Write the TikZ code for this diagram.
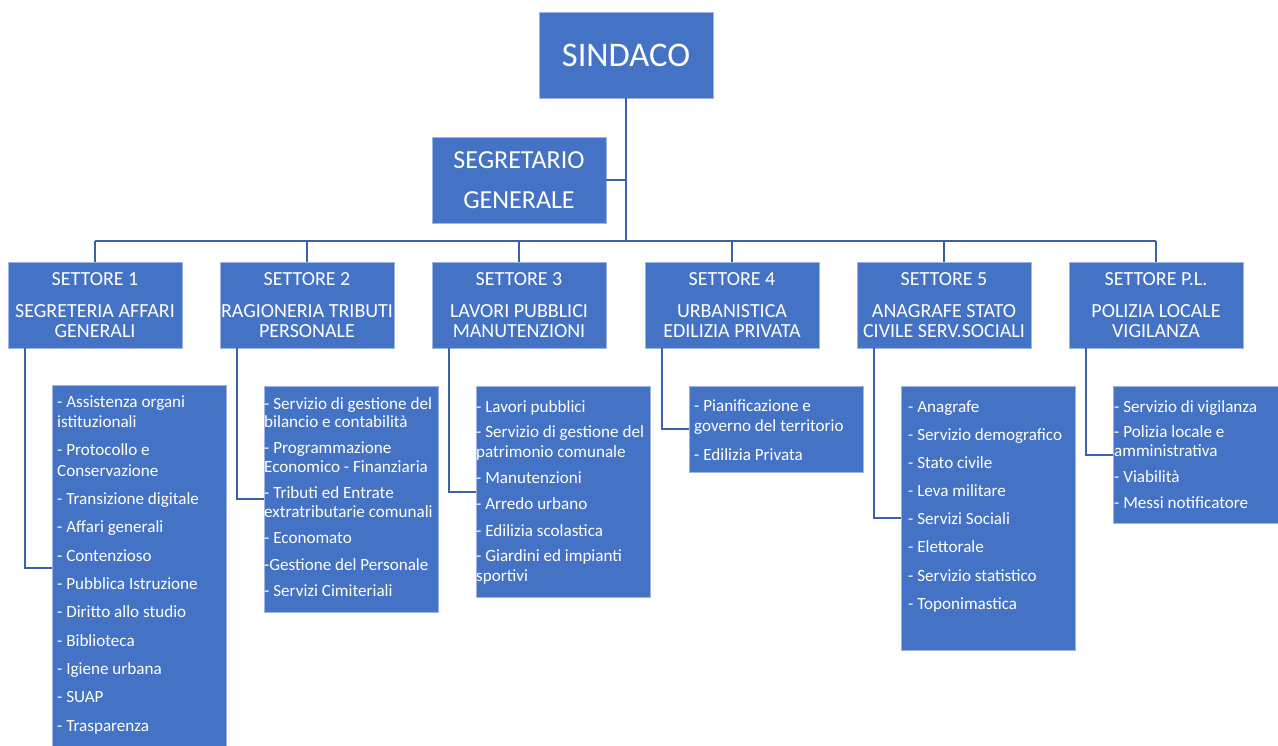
\documentclass[tikz,border=0pt]{standalone}
\usepackage{fontspec}
\setmainfont{Carlito}
\definecolor{boxblue}{HTML}{4472C4}
\definecolor{edgeblue}{HTML}{9DB5E0}
\definecolor{connblue}{HTML}{3A62AA}
\begin{document}
\begin{tikzpicture}[x=1pt,y=-1pt,
  box/.style={draw=edgeblue, line width=0.8pt, fill=boxblue, text=white, inner sep=0pt, align=center, minimum width=174pt},
  settore/.style={box, minimum height=86pt, font=\fontsize{20}{19.4}\selectfont},
  listbox/.style={draw=edgeblue, line width=0.8pt, fill=boxblue, inner sep=0pt, minimum width=174pt},
  conn/.style={draw=connblue, line width=2pt},
  ltxt/.style={anchor=base west, inner sep=0pt, text=white, font=\fontsize{17.1}{20}\selectfont}]
\useasboundingbox (0,0) rectangle (1278,745);
\clip (0,0) rectangle (1278,745);

% top
\node[box, minimum height=86pt, font=\fontsize{34.5}{40}\selectfont] (sindaco) at (626,55) {SINDACO};
\node[box, minimum height=86pt, font=\fontsize{26}{29}\selectfont] (segr) at (519,180) {SEGRETARIO\\[11.6pt]GENERALE};

% settori
\node[settore] (s1) at (95,305)   {SETTORE 1\\[12.6pt]SEGRETERIA AFFARI\\GENERALI};
\node[settore] (s2) at (307,305)  {SETTORE 2\\[12.6pt]RAGIONERIA TRIBUTI\\PERSONALE};
\node[settore] (s3) at (519,305)  {SETTORE 3\\[12.6pt]LAVORI PUBBLICI\\MANUTENZIONI};
\node[settore] (s4) at (732,305)  {SETTORE 4\\[12.6pt]URBANISTICA\\EDILIZIA PRIVATA};
\node[settore] (s5) at (944,305)  {SETTORE 5\\[12.6pt]ANAGRAFE STATO\\CIVILE SERV.SOCIALI};
\node[settore] (s6) at (1156,305) {SETTORE P.L.\\[12.6pt]POLIZIA LOCALE\\VIGILANZA};

% list boxes
\node[listbox, minimum height=366pt] (l1) at (139,568) {};
\node[listbox, minimum height=226pt] (l2) at (351,499) {};
\node[listbox, minimum height=211pt] (l3) at (563,491.5) {};
\node[listbox, minimum height=86pt]  (l4) at (776,429) {};
\node[listbox, minimum height=264pt] (l5) at (988,518) {};
\node[listbox, minimum height=137pt] (l6) at (1200,454.5) {};

% connectors
\coordinate (hub) at (626,241);
\draw[conn] (sindaco.south) -- (hub);
\draw[conn] (segr.east) -- (segr.east -| hub);
\draw[conn] (s1.north |- hub) -- (s6.north |- hub);
\foreach \s in {s1,s2,s3,s4,s5,s6}
  \draw[conn] (\s.north |- hub) -- (\s.north);
\foreach \s/\l in {s1/l1,s2/l2,s3/l3,s4/l4,s5/l5,s6/l6}
  \draw[conn] ([xshift=17pt]\s.south west) |- (\l.west);

% list texts
\foreach \y/\t [count=\i] in {407/{- Assistenza organi},427.5/{istituzionali},455.8/{- Protocollo e},476.3/{Conservazione},504.6/{- Transizione digitale},532.9/{- Affari generali},561.2/{- Contenzioso},589.5/{- Pubblica Istruzione},617.8/{- Diritto allo studio},646.1/{- Biblioteca},674.4/{- Igiene urbana},702.7/{- SUAP},731/{- Trasparenza}}
  \node[ltxt, name=ta\i] at (57,\y) {\t};
\foreach \y/\t [count=\i] in {409/{- Servizio di gestione del},427/{bilancio e contabilità},453/{- Programmazione},472.5/{Economico - Finanziaria},498/{- Tributi ed Entrate},517/{extratributarie comunali},543/{- Economato},570/{-Gestione del Personale},596/{- Servizi Cimiteriali}}
  \node[ltxt, name=tb\i] at (264,\y) {\t};
\foreach \y/\t [count=\i] in {412/{- Lavori pubblici},437/{- Servizio di gestione del},457/{patrimonio comunale},483/{- Manutenzioni},509/{- Arredo urbano},536/{- Edilizia scolastica},561/{- Giardini ed impianti},581/{sportivi}}
  \node[ltxt, name=tc\i] at (476,\y) {\t};
\foreach \y/\t [count=\i] in {411/{- Pianificazione e},431/{governo del territorio},460/{- Edilizia Privata}}
  \node[ltxt, name=td\i] at (694,\y) {\t};
\foreach \y/\t [count=\i] in {412/{- Anagrafe},440/{- Servizio demografico},468/{- Stato civile},496/{- Leva militare},524/{- Servizi Sociali},552/{- Elettorale},581/{- Servizio statistico},609/{- Toponimastica}}
  \node[ltxt, name=te\i] at (908,\y) {\t};
\foreach \y/\t [count=\i] in {412/{- Servizio di vigilanza},437/{- Polizia locale e},456/{amministrativa},482/{- Viabilità},508/{- Messi notificatore}}
  \node[ltxt, name=tf\i] at (1114,\y) {\t};
\end{tikzpicture}
\end{document}
